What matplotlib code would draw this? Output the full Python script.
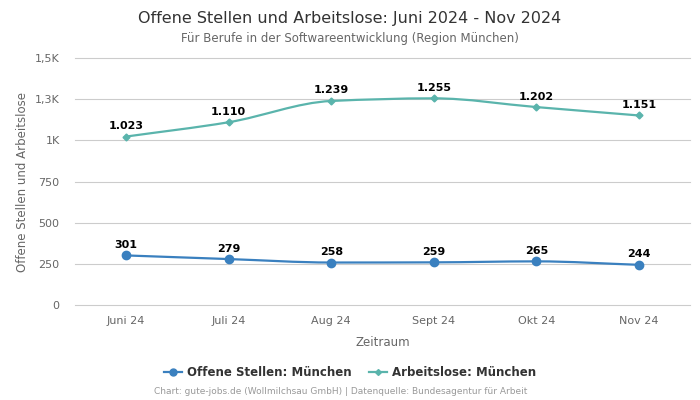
import matplotlib
matplotlib.use("Agg")
import matplotlib.pyplot as plt
from matplotlib.path import Path
from matplotlib.patches import PathPatch
from matplotlib.ticker import FixedLocator, FixedFormatter
import numpy as np

months = ["Juni 24", "Juli 24", "Aug 24", "Sept 24", "Okt 24", "Nov 24"]
offene_stellen = [301, 279, 258, 259, 265, 244]
arbeitslose = [1023, 1110, 1239, 1255, 1202, 1151]
y_ticks = [0, 250, 500, 750, 1000, 1250, 1500]
y_tick_labels = ["0", "250", "500", "750", "1K", "1,3K", "1,5K"]

blue = "#3a80bf"
teal = "#5ab4ac"


def fmt(v):
    # german thousands separator
    return f"{v:,}".replace(",", ".")


def smooth_path(xs, ys):
    # monotone cubic (Fritsch-Carlson) tangents, drawn as bezier segments
    xs = np.asarray(xs, float)
    ys = np.asarray(ys, float)
    d = np.diff(ys) / np.diff(xs)
    m = np.zeros_like(ys)
    m[0], m[-1] = d[0], d[-1]
    for i in range(1, len(ys) - 1):
        m[i] = 0 if d[i - 1] * d[i] <= 0 else 2 / (1 / d[i - 1] + 1 / d[i])
    verts = [(xs[0], ys[0])]
    codes = [Path.MOVETO]
    for i in range(len(xs) - 1):
        h = xs[i + 1] - xs[i]
        verts += [(xs[i] + h / 3, ys[i] + m[i] * h / 3),
                  (xs[i + 1] - h / 3, ys[i + 1] - m[i + 1] * h / 3),
                  (xs[i + 1], ys[i + 1])]
        codes += [Path.CURVE4] * 3
    return Path(verts, codes)


fig = plt.figure(figsize=(7, 4), dpi=100)
ax = fig.add_axes([0.107, 0.2375, 0.879, 0.6175])

x = np.arange(len(months))
for ys, color, marker, ms in [(offene_stellen, blue, "o", 6), (arbeitslose, teal, "D", 3.5)]:
    ax.add_patch(PathPatch(smooth_path(x, ys), facecolor="none", edgecolor=color, lw=1.6, zorder=3))
    ax.plot(x, ys, linestyle="none", marker=marker, color=color, markersize=ms, zorder=4)
    for xi, v in zip(x, ys):
        ax.annotate(fmt(v), (xi, v), xytext=(0, 4), textcoords="offset points",
                    ha="center", va="bottom", fontsize=8, fontweight="bold", color="black", zorder=5)

ax.set_xlim(-0.5, len(months) - 0.5)
ax.set_ylim(0, 1500)
ax.yaxis.set_major_locator(FixedLocator(y_ticks))
ax.yaxis.set_major_formatter(FixedFormatter(y_tick_labels))
ax.set_xticks(x)
ax.set_xticklabels(months)
ax.grid(axis="y", color="#cccccc", lw=0.8)
for gl in ax.get_ygridlines():
    gl.set_clip_on(False)
ax.set_axisbelow(True)
for s in ax.spines.values():
    s.set_visible(False)
ax.tick_params(length=0, labelsize=8, colors="#666666", pad=8)
ax.tick_params(axis="y", pad=11)
ax.set_xlabel("Zeitraum", fontsize=8.5, color="#666666", labelpad=7)
ax.set_ylabel("Offene Stellen und Arbeitslose", fontsize=8.5, color="#666666", labelpad=4)

fig.text(0.5, 0.955, "Offene Stellen und Arbeitslose: Juni 2024 - Nov 2024", ha="center", va="center",
         fontsize=11.5, color="#333333")
fig.text(0.5, 0.903, "Für Berufe in der Softwareentwicklung (Region München)", ha="center", va="center",
         fontsize=8.5, color="#666666")

handles = [plt.Line2D([], [], color=blue, marker="o", markersize=5, lw=1.6),
           plt.Line2D([], [], color=teal, marker="D", markersize=3, lw=1.6)]
fig.legend(handles, ["Offene Stellen: München", "Arbeitslose: München"], loc="center",
           bbox_to_anchor=(0.5, 0.068), ncol=2, frameon=False, handlelength=1.5,
           columnspacing=1.5, handletextpad=0.4,
           prop={"size": 8.5, "weight": "bold"}, labelcolor="#333333")
fig.text(0.486, 0.02, "Chart: gute-jobs.de (Wollmilchsau GmbH) | Datenquelle: Bundesagentur für Arbeit",
         ha="center", va="center", fontsize=6.5, color="#999999")

fig.savefig("out.png", dpi=100)
